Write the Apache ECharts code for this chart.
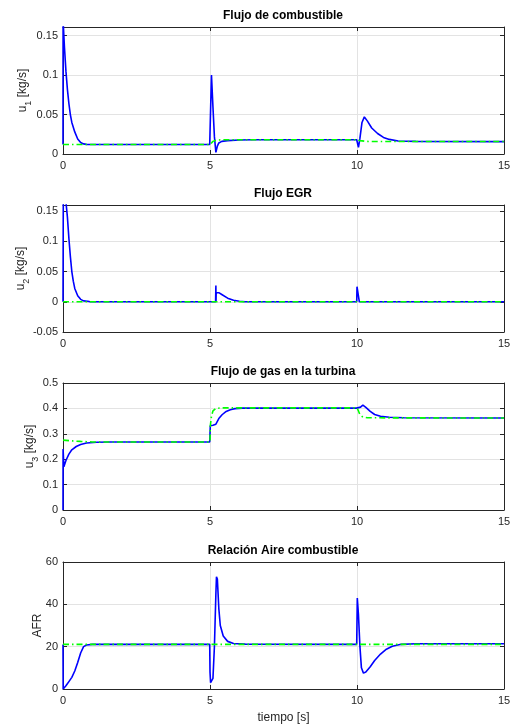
<!DOCTYPE html>
<html>
<head>
<meta charset="utf-8">
<script src="https://cdn.jsdelivr.net/npm/echarts@6/dist/echarts.min.js"></script>
<style>
  html, body { margin: 0; padding: 0; background: #fff; }
  #chart { width: 510px; height: 724px; }
</style>
</head>
<body>
<div id="chart"></div>
<script>
// curves: [tiempo, valor]
var titles = ['Flujo de combustible', 'Flujo EGR', 'Flujo de gas en la turbina', 'Relación Aire combustible'];

var u1Sim = [[0,0.012],[0.003,0.17],[0.05,0.135],[0.1,0.105],[0.15,0.082],[0.2,0.064],[0.25,0.05],[0.3,0.04],
    [0.4,0.028],[0.5,0.019],[0.6,0.0145],[0.7,0.0128],[0.8,0.0122],[1,0.012],[4.99,0.012],[5.05,0.1],[5.1,0.06],
    [5.15,0.022],[5.2,0.002],[5.25,0.01],[5.3,0.014],[5.4,0.016],[5.6,0.017],[6,0.0178],[6.5,0.018],[9.99,0.018],
    [10.05,0.0085],[10.1,0.02],[10.17,0.04],[10.25,0.047],[10.35,0.042],[10.5,0.033],[10.7,0.026],[10.9,0.021],
    [11.1,0.0185],[11.4,0.0165],[12,0.016],[15,0.0157]];
var u1Ref = [[0,0.012],[5,0.012],[5.05,0.0135],[5.1,0.016],[5.2,0.0175],[5.4,0.018],[10,0.018],[10.1,0.017],
    [10.3,0.016],[10.5,0.0158],[15,0.0158]];

var u2Sim = [[0,0],[0.01,0.17],[0.1,0.165],[0.15,0.14],[0.2,0.105],[0.25,0.075],[0.3,0.05],[0.35,0.034],
    [0.4,0.022],[0.5,0.01],[0.6,0.004],[0.7,0.0015],[0.9,0.0003],[1,0],[5.19,0],[5.2,0.027],[5.205,0],
    [5.21,0.015],[5.3,0.015],[5.4,0.012],[5.6,0.006],[5.8,0.0025],[6,0.0008],[6.2,0],[9.99,0],[10,0.025],
    [10.08,0],[15,0]];
var u2Ref = [[0,0],[15,0]];

var u3Sim = [[0,0],[0.003,0.24],[0.03,0.17],[0.1,0.195],[0.2,0.22],[0.3,0.237],[0.45,0.25],[0.6,0.258],
    [0.8,0.264],[1.15,0.267],[1.6,0.268],[4.99,0.268],[5.01,0.332],[5.1,0.334],[5.2,0.338],[5.3,0.36],
    [5.41,0.375],[5.55,0.388],[5.69,0.395],[5.85,0.399],[6.1,0.401],[9.99,0.401],[10.05,0.395],[10.12,0.405],
    [10.2,0.413],[10.3,0.404],[10.45,0.388],[10.6,0.376],[10.8,0.369],[11.1,0.365],[11.6,0.363],[15,0.362]];
var u3Ref = [[0,0.275],[0.3,0.272],[0.6,0.27],[1,0.268],[5,0.268],[5.01,0.33],[5.05,0.37],[5.1,0.39],
    [5.2,0.4],[5.4,0.402],[10,0.402],[10.05,0.39],[10.1,0.375],[10.2,0.366],[10.35,0.363],[15,0.362]];

var afrSim = [[0,21],[0.005,0],[0.1,1.5],[0.2,3.5],[0.3,5.5],[0.4,8.5],[0.5,12.5],[0.6,17],[0.7,20],
    [0.8,20.8],[1,21.1],[4.99,21.1],[5,8],[5.02,3],[5.05,2.5],[5.1,5],[5.15,20],[5.2,45],[5.22,53],[5.25,52],
    [5.3,38],[5.35,30],[5.45,25],[5.6,22.5],[5.8,21.5],[6.2,21.2],[9.99,21.1],[10.01,43],[10.05,35],[10.1,20],
    [10.15,10],[10.22,7.5],[10.3,8],[10.45,10.5],[10.6,13.5],[10.8,16.5],[11,18.8],[11.2,20.2],[11.5,21.1],
    [12,21.4],[15,21.4]];
var afrRef = [[0,21.1],[15,21.1]];

var yRanges = [[0, 0.161, 0.05], [-0.05, 0.16, 0.05], [0, 0.5, 0.1], [0, 60, 20]];
var yNames = ['{n|u}{s|1}{n| [kg/s]}', '{n|u}{s|2}{n| [kg/s]}', '{n|u}{s|3}{n| [kg/s]}', '{n|AFR}'];
var simData = [u1Sim, u2Sim, u3Sim, afrSim];
var refData = [u1Ref, u2Ref, u3Ref, afrRef];

var gridTops = [27, 205, 383, 562];
var gridHeight = 127;
var nameGaps = [33, 35, 26, 18];
var font = 'Liberation Sans, Arial, Helvetica, sans-serif';
var axisColor = '#262626';

var option = { animation: false, grid: [], xAxis: [], yAxis: [], series: [], title: [] };

for (var i = 0; i < 4; i++) {
    option.grid.push({ left: 63, right: 6, top: gridTops[i], height: gridHeight, containLabel: false, outerBoundsMode: 'none' });
    option.title.push({
        text: titles[i], left: 283, top: gridTops[i] - 17, textAlign: 'center', padding: 0,
        textStyle: { fontFamily: font, fontSize: 12, fontWeight: 'bold', color: '#000' }
    });
    var isLast = i === 3;
    option.xAxis.push({
        type: 'value', gridIndex: i, min: 0, max: 15, interval: 5,
        name: isLast ? 'tiempo [s]' : '', nameLocation: 'middle', nameGap: 23, nameMoveOverlap: false,
        nameTextStyle: { fontFamily: font, fontSize: 12, color: axisColor },
        axisLine: { show: true, onZero: false, lineStyle: { color: axisColor, width: 1 } },
        axisTick: { show: true, inside: true, length: 4, lineStyle: { color: axisColor } },
        axisLabel: { fontFamily: font, fontSize: 11, color: axisColor, margin: 6 },
        splitLine: { show: true, lineStyle: { color: '#e3e3e3', width: 1 } }
    });
    option.xAxis.push({
        type: 'value', gridIndex: i, position: 'top', min: 0, max: 15, interval: 5,
        axisLine: { show: true, onZero: false, lineStyle: { color: axisColor, width: 1 } },
        axisTick: { show: true, inside: true, length: 4, lineStyle: { color: axisColor } },
        axisLabel: { show: false }, splitLine: { show: false }
    });
    var yr = yRanges[i];
    option.yAxis.push({
        type: 'value', gridIndex: i, min: yr[0], max: yr[1], interval: yr[2],
        name: yNames[i], nameLocation: 'middle', nameGap: nameGaps[i], nameMoveOverlap: false,
        nameTextStyle: {
            fontFamily: font, fontSize: 12, color: axisColor,
            rich: {
                n: { fontFamily: font, fontSize: 12, color: axisColor, lineHeight: 14 },
                s: { fontFamily: font, fontSize: 9, color: axisColor, verticalAlign: 'bottom', lineHeight: 14, padding: [0, 0, -3, 0] }
            }
        },
        axisLine: { show: true, onZero: false, lineStyle: { color: axisColor, width: 1 } },
        axisTick: { show: true, inside: true, length: 4, lineStyle: { color: axisColor } },
        axisLabel: { fontFamily: font, fontSize: 11, color: axisColor, margin: 5, showMaxLabel: i >= 2 },
        splitLine: { show: true, lineStyle: { color: '#e3e3e3', width: 1 } }
    });
    option.yAxis.push({
        type: 'value', gridIndex: i, position: 'right', min: yr[0], max: yr[1], interval: yr[2],
        axisLine: { show: true, onZero: false, lineStyle: { color: axisColor, width: 1 } },
        axisTick: { show: true, inside: true, length: 4, lineStyle: { color: axisColor } },
        axisLabel: { show: false }, splitLine: { show: false }
    });
    option.series.push({
        type: 'line', xAxisIndex: 2 * i, yAxisIndex: 2 * i, data: simData[i],
        showSymbol: false, clip: true, lineStyle: { color: '#0000ff', width: 1.6 }, z: 3
    });
    option.series.push({
        type: 'line', xAxisIndex: 2 * i, yAxisIndex: 2 * i, data: refData[i],
        showSymbol: false, clip: true, lineStyle: { color: '#00ff00', width: 1.6, type: [6, 3, 1.5, 3] }, z: 4
    });
}

var chart = echarts.init(document.getElementById('chart'), null, { renderer: 'canvas' });
chart.setOption(option);
</script>
</body>
</html>
